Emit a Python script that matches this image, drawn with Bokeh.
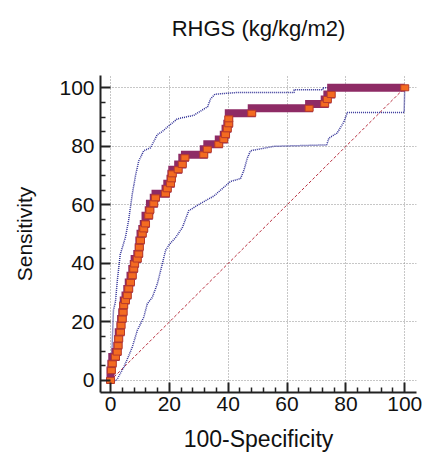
from bokeh.plotting import figure
from bokeh.models import Range1d, FixedTicker, Title
from bokeh.embed import file_html
from bokeh.resources import INLINE

# ROC operating points (100-Specificity, Sensitivity)
roc_fpr = [0.0, 0.3, 0.6, 1.7, 2.3, 2.6, 2.8, 3.4, 3.6, 4.0, 4.3, 4.5, 5.1, 5.7, 6.2,
           6.8, 7.4, 7.9, 8.2, 9.1, 9.6, 9.8, 10.2, 10.8, 11.3, 11.9, 13.0, 13.4, 14.7,
           15.3, 18.7, 19.3, 20.4, 20.7, 21.0, 23.0, 24.4, 25.3, 31.7, 32.9, 36.8, 38.5,
           39.1, 39.7, 40.2, 40.2, 48.0, 67.5, 72.8, 73.7, 75.0, 100.0]
roc_sens = [0.0, 3.4, 5.7, 8.0, 9.7, 11.9, 14.2, 16.5, 18.8, 21.0, 23.3, 25.6, 27.3, 29.0,
            31.3, 33.5, 35.8, 38.1, 39.8, 41.5, 43.2, 45.5, 47.8, 50.1, 51.8, 53.5, 56.3,
            58.2, 60.4, 62.4, 63.8, 65.5, 67.2, 68.9, 70.6, 72.0, 73.8, 76.1, 77.1, 79.0,
            80.7, 82.3, 84.0, 86.0, 87.7, 89.4, 91.3, 93.0, 94.5, 96.0, 97.7, 100.0]

# Upper 95% confidence bound
upper_x = [0.0, 0.5, 1.0, 1.7, 2.3, 3.3, 5.1, 6.2, 7.4, 8.5, 9.6, 11.3, 13.6, 15.9, 17.5,
           20.4, 22.7, 28.3, 31.0, 33.0, 34.0, 35.5, 43.0, 62.4, 62.4, 72.2, 72.2, 100.0]
upper_y = [0.0, 10.0, 24.0, 27.0, 34.0, 43.0, 49.0, 55.0, 63.7, 70.0, 75.0, 78.5, 79.5,
           84.0, 85.0, 87.5, 89.4, 90.6, 92.3, 93.5, 96.2, 97.8, 98.4, 98.4, 99.3, 99.3,
           100.0, 100.0]

# Lower 95% confidence bound
lower_x = [0.0, 2.0, 4.5, 6.0, 7.4, 9.1, 11.3, 12.5, 14.2, 15.9, 17.6, 18.7, 20.0, 22.1,
           24.4, 26.6, 30.6, 35.1, 38.5, 40.8, 44.2, 45.4, 46.5, 47.6, 55.5, 73.5, 74.2,
           77.0, 79.3, 80.5, 99.8, 100.0]
lower_y = [0.0, 0.0, 4.5, 8.0, 11.4, 17.1, 21.6, 26.2, 28.4, 33.0, 39.8, 44.4, 46.5, 48.8,
           52.2, 58.0, 60.5, 63.0, 66.0, 68.0, 69.0, 72.0, 76.0, 78.5, 80.0, 80.5, 82.8,
           84.5, 88.3, 91.6, 91.6, 100.0]

# Reference diagonal
diag_x = [0, 100]
diag_y = [0, 100]

title_text = "RHGS (kg/kg/m2)"
major_ticks = [0, 20, 40, 60, 80, 100]
x_minor = [v for v in range(4, 100, 4) if v % 20 != 0]
y_minor = [v for v in range(5, 100, 5) if v % 20 != 0]

FONT = "Liberation Sans"

p = figure(width=424, height=455, output_backend="svg", toolbar_location=None,
           x_range=Range1d(-3.4, 104.0), y_range=Range1d(-4.1, 104.2),
           min_border_left=100, min_border_right=8, min_border_top=75, min_border_bottom=63,
           title=title_text)
p.outline_line_color = None
p.background_fill_color = "white"

p.title.text_font = FONT
p.title.text_font_size = "22px"
p.title.text_font_style = "normal"
p.title.text_color = "#111111"
p.title.align = "center"
p.title.vertical_align = "top"
p.title.standoff = 24

# blank spacer between the title and the plotting frame
p.add_layout(Title(text=" ", text_font_size="10px", standoff=8), "above")

p.xaxis.ticker = FixedTicker(ticks=major_ticks, minor_ticks=x_minor)
p.yaxis.ticker = FixedTicker(ticks=major_ticks, minor_ticks=y_minor)

for ax in (p.xaxis[0], p.yaxis[0]):
    ax.axis_line_width = 2
    ax.axis_line_color = "#222222"
    ax.major_tick_in = 10
    ax.major_tick_out = 0
    ax.minor_tick_in = 5
    ax.minor_tick_out = 0
    ax.major_tick_line_width = 2
    ax.major_tick_line_color = "#222222"
    ax.minor_tick_line_width = 1.5
    ax.minor_tick_line_color = "#222222"
    ax.major_label_text_font = FONT
    ax.major_label_text_font_size = "21px"
    ax.major_label_text_color = "#111111"
    ax.axis_label_text_font = FONT
    ax.axis_label_text_font_style = "normal"
    ax.axis_label_text_color = "#111111"

p.xaxis.axis_label = "100-Specificity"
p.yaxis.axis_label = "Sensitivity"
p.xaxis.axis_label_text_font_size = "23px"
p.yaxis.axis_label_text_font_size = "21px"
p.xaxis.major_label_standoff = 4
p.xaxis.axis_label_standoff = 12
p.yaxis.major_label_standoff = 6
p.yaxis.axis_label_standoff = 20

p.grid.grid_line_color = "#8f8f8f"
p.grid.grid_line_dash = "1 2"
p.grid.grid_line_width = 1

p.line(diag_x, diag_y, line_color="#B8303F", line_dash="3 2", line_width=1)
p.line(upper_x, upper_y, line_color="#2E2E96", line_dash="1 1", line_width=1.5)
p.line(lower_x, lower_y, line_color="#2E2E96", line_dash="1 1", line_width=1.5)

p.step(roc_fpr, roc_sens, mode="before", line_color="#8E2B65", line_width=8,
       line_join="miter")
p.rect(roc_fpr, roc_sens, width=8, height=6, width_units="screen", height_units="screen",
       fill_color="#F36B21", line_color="#B83A2A", line_width=1)

open("out.html", "w").write(file_html(p, INLINE))
